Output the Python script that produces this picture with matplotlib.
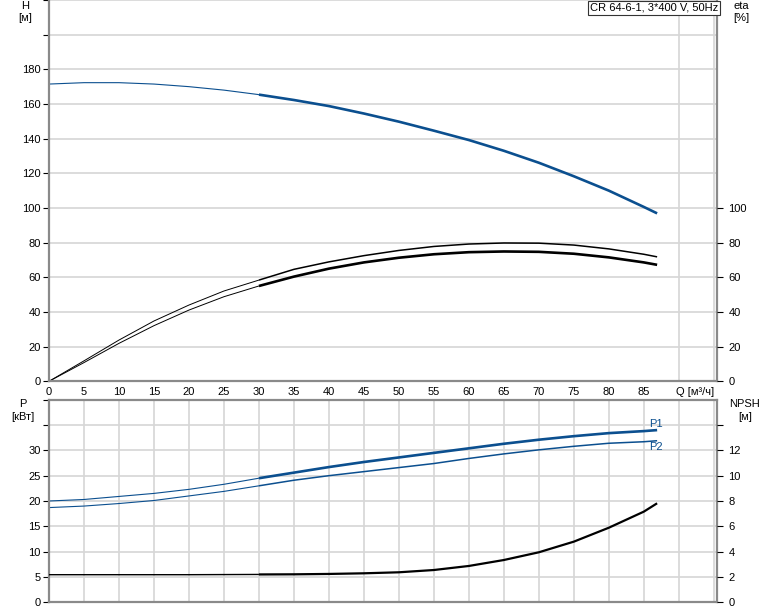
import numpy as np
import matplotlib
matplotlib.use("Agg")
import matplotlib.pyplot as plt

plt.rcParams["font.family"] = ["Liberation Sans", "DejaVu Sans"]
plt.rcParams["font.size"] = 8

# flow points
q = [0, 5, 10, 15, 20, 25, 30, 35, 40, 45, 50, 55, 60, 65, 70, 75, 80, 85, 86.9]

head = [171.5, 172.3, 172.3, 171.5, 170.0, 168.0, 165.4, 162.3, 158.8, 154.5,
        149.8, 144.6, 139.2, 133.0, 126.1, 118.3, 110.0, 100.6, 96.9]
eta_pump = [0, 11.8, 23.8, 34.8, 44.0, 52.1, 58.4, 64.6, 68.9, 72.5,
            75.5, 77.8, 79.2, 79.8, 79.7, 78.6, 76.4, 73.3, 71.8]
eta_total = [0, 10.8, 21.9, 32.1, 41.1, 48.8, 55.0, 60.4, 65.0, 68.6,
             71.3, 73.3, 74.5, 74.9, 74.7, 73.6, 71.5, 68.6, 67.2]
p1 = [20.0, 20.3, 20.9, 21.5, 22.3, 23.3, 24.5, 25.6, 26.7, 27.7,
      28.6, 29.5, 30.4, 31.3, 32.1, 32.8, 33.4, 33.8, 34.0]
p2 = [18.7, 19.0, 19.5, 20.1, 21.0, 21.9, 23.0, 24.1, 25.0, 25.8,
      26.6, 27.4, 28.4, 29.3, 30.1, 30.8, 31.4, 31.7, 31.9]
npsh = [2.18, 2.18, 2.18, 2.18, 2.18, 2.19, 2.20, 2.21, 2.24, 2.29,
        2.37, 2.55, 2.87, 3.34, 3.95, 4.79, 5.89, 7.16, 7.82]

x_ticks = list(range(0, 90, 5))
title = "CR 64-6-1, 3*400 V, 50Hz"
q_split = 30

BLUE = "#0b4f8f"
GRID = "#d6d6d6"
SPINE = "#8a8a8a"

W, H = 774, 611
fig = plt.figure(figsize=(W / 100, H / 100), dpi=100)

x0, x1 = 49 / W, 717.3 / W
ax_top = fig.add_axes([x0, 1 - 381.3 / H, x1 - x0, 381.3 / H])
ax_bot = fig.add_axes([x0, 1 - 602.3 / H, x1 - x0, (602.3 - 399.7) / H])
XMAX = 95.5


def split_plot(ax, xs, ys, color, lw_thin, lw_thick):
    xs = np.asarray(xs)
    ys = np.asarray(ys)
    a = xs <= q_split
    b = xs >= q_split
    ax.plot(xs[a], ys[a], color=color, lw=lw_thin, solid_capstyle="butt")
    ax.plot(xs[b], ys[b], color=color, lw=lw_thick, solid_capstyle="butt")


def style(ax):
    ax.set_xlim(0, XMAX)
    ax.set_xticks(np.arange(0, 96, 5), minor=True)
    ax.grid(True, which="minor", axis="x", color=GRID, lw=1.2)
    ax.grid(True, which="major", axis="y", color=GRID, lw=1.2)
    ax.set_axisbelow(True)
    for s in ax.spines.values():
        s.set_color(SPINE)
        s.set_linewidth(1.6)
    ax.tick_params(which="both", color="black", length=4, width=0.8, pad=2)
    ax.tick_params(which="minor", axis="x", length=0)


# top panel: head and efficiency
style(ax_top)
ax_top.set_ylim(0, 220)
ax_top.set_yticks(np.arange(0, 221, 20))
ax_top.set_yticklabels([str(v) if v <= 180 else "" for v in range(0, 221, 20)])
ax_top.spines["top"].set_visible(False)
ax_top.set_xticks(x_ticks)
ax_top.tick_params(axis="x", length=0, pad=4)
ax_top.text(89.6, -3.5, "Q [м³/ч]", ha="left", va="top", fontsize=8)
# hide tick marks for unlabeled grid rows
for t, v in zip(ax_top.yaxis.get_major_ticks(), range(0, 221, 20)):
    if v > 180:
        t.tick1line.set_visible(False)

split_plot(ax_top, q, head, BLUE, 0.8, 1.9)
split_plot(ax_top, q, eta_pump, "black", 0.7, 1.1)
split_plot(ax_top, q, eta_total, "black", 0.7, 1.9)

eta_ax = ax_top.twinx()
eta_ax.set_ylim(0, 220)
eta_ax.set_yticks(np.arange(0, 101, 20))
for s in eta_ax.spines.values():
    s.set_visible(False)
eta_ax.tick_params(length=4, width=0.8, pad=4)

fig.text(25 / W, 1 - 6 / H, "H", ha="center", va="center")
fig.text(25 / W, 1 - 18 / H, "[м]", ha="center", va="center")
fig.text(741 / W, 1 - 6 / H, "eta", ha="center", va="center")
fig.text(741 / W, 1 - 18 / H, "[%]", ha="center", va="center")
fig.text(654 / W, 1 - 8 / H, title, ha="center", va="center",
         bbox=dict(boxstyle="square,pad=0.2", fc="white", ec="#333333", lw=0.8))

# bottom panel: power and NPSH
style(ax_bot)
ax_bot.set_ylim(0, 40)
ax_bot.set_yticks(np.arange(0, 41, 5))
ax_bot.set_yticklabels([str(v) if v <= 30 else "" for v in range(0, 41, 5)])
for t, v in zip(ax_bot.yaxis.get_major_ticks(), range(0, 41, 5)):
    if v > 35:
        t.tick1line.set_visible(False)
ax_bot.set_xticks([])

split_plot(ax_bot, q, p1, BLUE, 0.8, 1.9)
split_plot(ax_bot, q, p2, BLUE, 0.8, 1.1)
ax_bot.text(85.8, p1[-1] + 0.2, "P1", color=BLUE, ha="left", va="bottom")
ax_bot.text(85.8, p2[-1] - 0.3, "P2", color=BLUE, ha="left", va="top")

npsh_ax = ax_bot.twinx()
npsh_ax.set_ylim(0, 16)
npsh_ax.set_yticks(np.arange(0, 17, 2))
npsh_ax.set_yticklabels([str(v) if v <= 12 else "" for v in range(0, 17, 2)])
for t, v in zip(npsh_ax.yaxis.get_major_ticks(), range(0, 17, 2)):
    if v > 14:
        t.tick2line.set_visible(False)
for s in npsh_ax.spines.values():
    s.set_visible(False)
npsh_ax.tick_params(length=4, width=0.8, pad=4)
split_plot(npsh_ax, q, npsh, "black", 1.0, 1.6)

fig.text(23 / W, 1 - 404 / H, "P", ha="center", va="center")
fig.text(23 / W, 1 - 417 / H, "[кВт]", ha="center", va="center")
fig.text(745 / W, 1 - 404 / H, "NPSH", ha="center", va="center")
fig.text(745 / W, 1 - 417 / H, "[м]", ha="center", va="center")

fig.savefig("out.png", dpi=100, facecolor="white")
